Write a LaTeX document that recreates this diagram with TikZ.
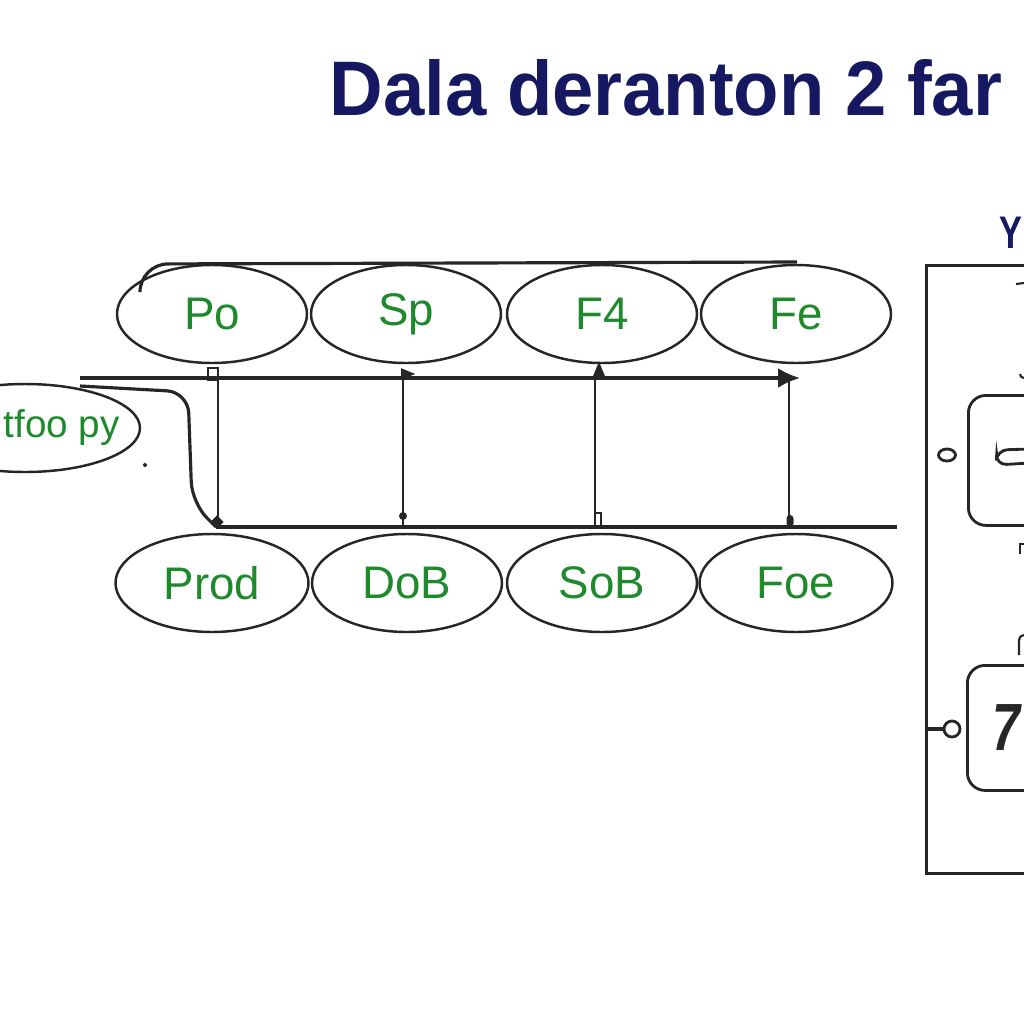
\documentclass[tikz,border=0pt]{standalone}
\usepackage{fontspec}
\setmainfont{Liberation Sans}
\usetikzlibrary{shapes.geometric,arrows.meta}
\definecolor{navyink}{RGB}{22,24,98}
\definecolor{leafgreen}{RGB}{30,138,44}
\definecolor{inkgray}{RGB}{38,38,38}

\begin{document}
\begin{tikzpicture}[
  font=\fontsize{13}{13}\selectfont,
  bubble/.style={ellipse, draw=inkgray, line width=0.7pt, minimum width=1.90cm, minimum height=0.98cm, inner sep=0pt, text=leafgreen},
  rail/.style={draw=inkgray, line width=0.9pt},
  stem/.style={draw=inkgray, line width=0.45pt},
  panelbox/.style={draw=inkgray, line width=0.8pt, rounded corners=5pt, anchor=north west, inner sep=0pt},
  ring/.style={ellipse, draw=inkgray, line width=0.8pt, minimum width=0.17cm, minimum height=0.12cm, inner sep=0pt},
  tick/.style={fill=inkgray, inner sep=0pt},
]
\def\ytop{-3.14}
\def\ybot{-5.83}
\def\yrail{-3.78}
\def\ydrop{-5.27}

\path[use as bounding box] (0,0) rectangle (10.24,-10.24);

% title
\node[font=\bfseries\fontsize{22}{22}\selectfont, text=navyink, xscale=0.96, transform shape] (title) at (6.66,-0.88) {Dala deranton 2 far};

% upper row
\node[bubble] (po) at (2.12,\ytop) {Po};
\node[bubble] (sp) at (4.06,\ytop) {Sp};
\node[bubble] (ffour) at (6.02,\ytop) {F4};
\node[bubble] (fe) at (7.96,\ytop) {Fe};

% lower row
\node[bubble, minimum width=1.93cm] (prod) at (2.12,\ybot) {Prod};
\node[bubble] (dob) at (4.07,\ybot) {DoB};
\node[bubble] (sob) at (6.02,\ybot) {SoB};
\node[bubble, minimum width=1.93cm] (foe) at (7.96,\ybot) {Foe};

% left bubble
\node[bubble, minimum width=2.30cm, minimum height=0.88cm] (tfoo) at (0.25,-4.28) {};
\node[text=leafgreen, font=\fontsize{11}{11}\selectfont, anchor=west, inner sep=0pt] (tfootext) at (0.03,-4.28) {tfoo py};
\fill[inkgray] (1.45,-4.65) circle (0.02);

% rails
\coordinate (railin) at (0.80,\yrail);
\coordinate (railout) at (8.00,\yrail);
\coordinate (dropin) at (2.16,\ydrop);
\coordinate (dropout) at (8.97,\ydrop);
\coordinate (capin) at (1.40,-2.90);
\coordinate (capout) at (7.97,-2.62);

\draw[rail, rounded corners=8pt] (capin) -- (1.40,-2.64) -- (capout);
\draw[rail, -{Latex[length=2.2mm,width=2mm]}] (railin) -- (railout);
\draw[rail] (dropin) -- (dropout);
\draw[rail, rounded corners=6pt] (0.80,-3.86) -- (1.88,-3.92) -- (1.92,-5.03) -- (dropin);

% stems between rows
\foreach \x/\n in {2.18/a, 4.03/b, 5.95/c, 7.89/d}{
  \coordinate (top\n) at (\x,\yrail);
  \coordinate (bot\n) at (\x,\ydrop);
  \draw[stem] (top\n) -- (bot\n);
}

% markers
\node[draw=inkgray, line width=0.6pt, minimum width=0.10cm, minimum height=0.12cm, inner sep=0pt] (mka) at (2.13,-3.74) {};
\node[tick, isosceles triangle, minimum width=0.09cm, minimum height=0.14cm] (mkb) at (4.05,-3.74) {};
\node[tick, isosceles triangle, shape border rotate=90, minimum width=0.13cm, minimum height=0.09cm] (mkc) at (5.99,-3.73) {};
\node[tick, diamond, minimum size=0.14cm] (mkd) at (2.17,-5.22) {};
\node[tick, circle, minimum size=0.08cm] (mke) at (4.03,-5.16) {};
\node[draw=inkgray, line width=0.6pt, minimum width=0.06cm, minimum height=0.14cm, inner sep=0pt] (mkf) at (5.98,-5.20) {};
\node[tick, rounded corners=1pt, minimum width=0.07cm, minimum height=0.12cm] (mkg) at (7.90,-5.21) {};

% right panel
\node[draw=inkgray, line width=0.9pt, anchor=north west, minimum width=1.60cm, minimum height=6.08cm, inner sep=0pt] (panel) at (9.25,-2.64) {};
\node[font=\bfseries\fontsize{13}{13}\selectfont, text=navyink, anchor=west, inner sep=0pt, xscale=0.75, transform shape] (ytag) at (9.99,-2.33) {Y};
\node[panelbox, minimum width=1.00cm, minimum height=1.30cm] (cardtop) at (9.67,-3.94) {};
\node[panelbox, minimum width=1.00cm, minimum height=1.25cm] (cardlow) at (9.66,-6.64) {};
\node[ring] (ringa) at (9.47,-4.55) {};
\node[ring, minimum width=0.16cm, minimum height=0.16cm] (ringb) at (9.52,-7.29) {};
\draw[rail] (ringb.west) -- (ringb.west -| panel.west);
\draw[line width=0.8pt, inkgray, rounded corners=3pt] (10.30,-4.49) -- (9.97,-4.50) -- (9.96,-4.65) -- (10.30,-4.63);
\node[font=\bfseries\itshape\fontsize{19}{19}\selectfont, text=inkgray, anchor=east, inner sep=0pt, xscale=0.75, transform shape] (seven) at (10.21,-7.28) {7};

% stray strokes at the right edge
\draw[line width=0.6pt, inkgray] (10.16,-2.84) -- (10.24,-2.83);
\draw[line width=0.6pt, inkgray] (10.20,-3.74) arc (180:300:0.04);
\draw[line width=0.6pt, inkgray] (10.20,-5.54) -- (10.20,-5.44) -- (10.24,-5.44);
\draw[line width=0.6pt, inkgray] (10.24,-6.35) arc (90:180:0.05) -- (10.19,-6.55);
\end{tikzpicture}
\end{document}
